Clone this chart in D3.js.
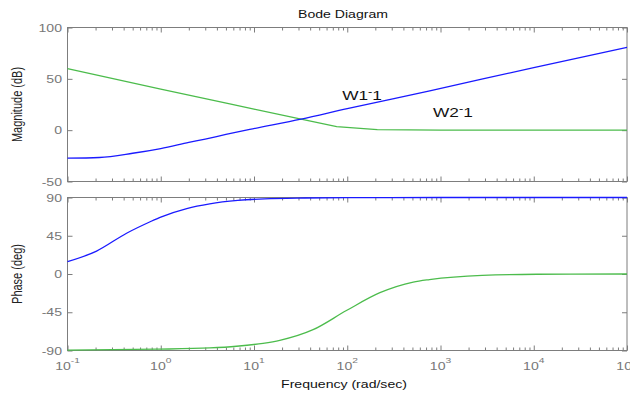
<!DOCTYPE html>
<html>
<head>
<meta charset="utf-8">
<script src="https://cdn.jsdelivr.net/npm/d3@7"></script>
<style>
  html, body { margin: 0; padding: 0; background: #fff; }
  svg { display: block; }
  text { font-family: "Liberation Sans", Arial, sans-serif; }
</style>
</head>
<body>
<svg id="chart" width="630" height="394"></svg>
<script>
// Frequency response samples (rad/sec) for the two inverse weights
const freqMagW1 = [0.1, 0.22, 0.5, 1, 2, 3, 5, 9, 32, 100, 767, 1e4, 1e5];
const magW1     = [-27.3, -26.6, -22.5, -17.9, -12, -8.7, -4.2, 0.7, 10.7, 21, 38.3, 61, 80.6];

const freqMagW2 = [0.1, 1, 5.5, 10, 32, 77, 150, 210, 1000, 1e5];
const magW2     = [60, 40, 25.5, 20.5, 10.7, 3.4, 1.5, 0.6, 0, 0];

const freqPhW1 = [0.1, 0.205, 0.43, 0.77, 1, 1.9, 3.35, 6.7, 13, 35, 100, 1e3, 1e5];
const phW1     = [14.5, 27, 48, 61.5, 67, 77, 82.5, 86.5, 88.4, 89.4, 89.8, 90, 90];

const freqPhW2 = [0.1, 0.9, 3.35, 6.5, 12.5, 18.9, 43, 98, 224, 510, 760, 2800, 1.08e4, 1e5];
const phW2     = [-89.5, -88.5, -87, -85, -81.5, -78, -65.5, -43, -22, -9.5, -6.5, -1.5, -0.3, 0];

// Axis ticks and labels
const xDecades  = [-1, 0, 1, 2, 3, 4, 5];
const magTicks  = [-50, 0, 50, 100];
const phTicks   = [-90, -45, 0, 45, 90];
const curveLabels = [
  { base: "W1", sup: "-", tail: "1", f: 144, db: 29.4 },
  { base: "W2", sup: "-", tail: "1", f: 1360, db: 12.8 }
];

const blue = "#1a1aff", green = "#4cbc4c", axisGray = "#7d7d7d";
const SX = 1.28; // horizontal text stretch

const svg = d3.select("#chart");

const x = d3.scaleLog().domain([0.1, 1e5]).range([67.5, 627]);
const yMag = d3.scaleLinear().domain([-50, 100]).range([181.5, 27.5]);
const yPh  = d3.scaleLinear().domain([-90, 90]).range([350.5, 197.5]);

const majors = xDecades.map(e => Math.pow(10, e));
const minors = [];
xDecades.slice(0, -1).forEach(e => { for (let k = 2; k <= 9; k++) minors.push(k * Math.pow(10, e)); });

function stretchedText(g, px, py, str, opts = {}) {
  const t = g.append("text")
    .attr("transform", `translate(${px},${py}) scale(${SX},1)` + (opts.rotate ? ` rotate(${opts.rotate})` : ""))
    .attr("text-anchor", opts.anchor || "start")
    .attr("font-size", opts.size || 11)
    .attr("fill", opts.fill || "#222");
  if (str !== null) t.text(str);
  return t;
}

function panel(y, yTicks, label, showXLabels) {
  const g = svg.append("g");
  const [y0, y1] = y.range();
  // frame
  g.append("rect").attr("x", x.range()[0]).attr("y", y1)
    .attr("width", x.range()[1] - x.range()[0]).attr("height", y0 - y1)
    .attr("fill", "#fff").attr("stroke", axisGray).attr("stroke-width", 1);

  // x ticks (inward) on bottom and top
  const addX = (axisFn, ty, vals, size) => {
    const a = g.append("g").attr("transform", `translate(0,${ty})`)
      .call(axisFn(x).tickValues(vals).tickSizeInner(-size).tickSizeOuter(0).tickFormat(""));
    a.select(".domain").remove();
    a.selectAll("line").attr("stroke", axisGray);
  };
  addX(d3.axisBottom, y0, majors, 5);
  addX(d3.axisBottom, y0, minors, 3);
  addX(d3.axisTop, y1, majors, 5);
  addX(d3.axisTop, y1, minors, 3);

  // y ticks (inward) on left and right
  const addY = (axisFn, tx, size) => {
    const a = g.append("g").attr("transform", `translate(${tx},0)`)
      .call(axisFn(y).tickValues(yTicks).tickSizeInner(-size).tickSizeOuter(0).tickFormat(""));
    a.select(".domain").remove();
    a.selectAll("line").attr("stroke", axisGray);
  };
  addY(d3.axisLeft, x.range()[0], 5);
  addY(d3.axisRight, x.range()[1], 5);

  // y tick labels
  yTicks.forEach(v => {
    stretchedText(g, 62, y(v) + 4, String(v), { anchor: "end", fill: "#777" });
  });

  // y axis title
  stretchedText(g, 22, (y0 + y1) / 2, label, { anchor: "middle", rotate: -90, fill: "#222" });

  if (showXLabels) {
    xDecades.forEach(e => {
      const t = stretchedText(g, x(Math.pow(10, e)), 370, null, { anchor: "middle", fill: "#777", size: 11 });
      t.append("tspan").text("10");
      t.append("tspan").attr("dy", -7).attr("font-size", 8).text(String(e));
    });
  }
  return g;
}

const gMag = panel(yMag, magTicks, "Magnitude (dB)", false);
const gPh  = panel(yPh, phTicks, "Phase (deg)", true);

function drawLine(g, xs, ys, y, color, curve) {
  const pts = xs.map((f, i) => [f, ys[i]]);
  g.append("path")
    .attr("d", d3.line().x(d => x(d[0])).y(d => y(d[1])).curve(curve)(pts))
    .attr("fill", "none").attr("stroke", color).attr("stroke-width", 1.3);
}

drawLine(gMag, freqMagW2, magW2, yMag, green, d3.curveLinear);
drawLine(gMag, freqMagW1, magW1, yMag, blue, d3.curveMonotoneX);
drawLine(gPh, freqPhW2, phW2, yPh, green, d3.curveMonotoneX);
drawLine(gPh, freqPhW1, phW1, yPh, blue, d3.curveMonotoneX);

// curve labels
curveLabels.forEach(l => {
  const t = stretchedText(gMag, x(l.f), yMag(l.db), null, { anchor: "middle", size: 13.5, fill: "#111" });
  t.append("tspan").text(l.base);
  t.append("tspan").attr("dy", -5).attr("font-size", 10).text(l.sup);
  t.append("tspan").attr("dy", 5).text(l.tail);
});

// titles
stretchedText(svg, 343, 18, "Bode Diagram", { anchor: "middle", size: 11, fill: "#111" });
stretchedText(svg, 344, 388, "Frequency (rad/sec)", { anchor: "middle", size: 11, fill: "#111" });
</script>
</body>
</html>
